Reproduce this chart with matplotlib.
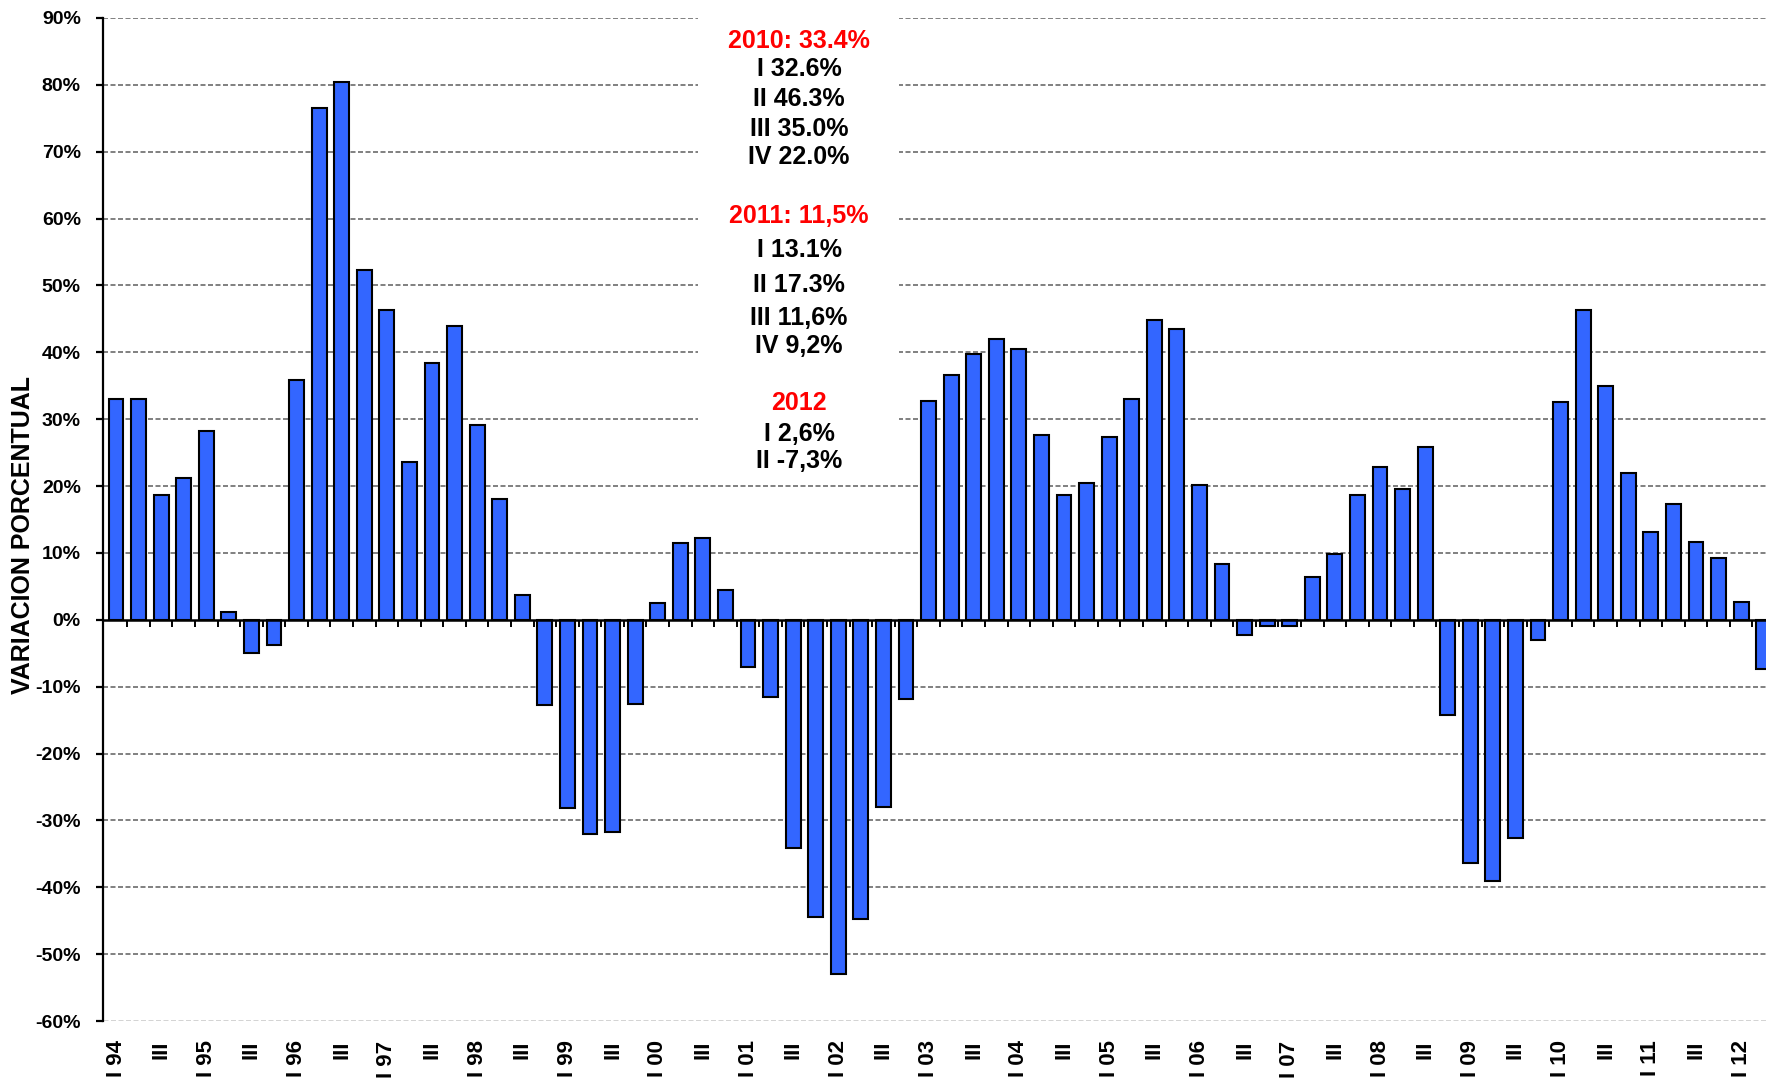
import matplotlib
matplotlib.use("Agg")
import matplotlib.pyplot as plt
from matplotlib.patches import Rectangle
import numpy as np

# ---------------- data ----------------
values = [33.0, 33.0, 18.7, 21.2, 28.2, 1.2, -5.0, -3.8,
          35.9, 76.6, 80.4, 52.3, 46.4, 23.6, 38.4, 44.0,
          29.2, 18.0, 3.7, -12.7, -28.2, -32.0, -31.7, -12.6,
          2.5, 11.5, 12.3, 4.4, -7.1, -11.5, -34.2, -44.4,
          -53.0, -44.7, -28.0, -11.8, 32.7, 36.6, 39.8, 42.0,
          40.5, 27.7, 18.7, 20.4, 27.3, 33.0, 44.9, 43.5,
          20.2, 8.4, -2.3, -0.9, -0.9, 6.4, 9.8, 18.7,
          22.8, 19.6, 25.8, -14.2, -36.3, -39.0, -32.7, -3.0,
          32.6, 46.3, 35.0, 22.0, 13.1, 17.3, 11.6, 9.2,
          2.6, -7.3]

tick_labels = ["I 94", "III", "I 95", "III", "I 96", "III", "I 97", "III",
               "I 98", "III", "I 99", "III", "I 00", "III", "I 01", "III",
               "I 02", "III", "I 03", "III", "I 04", "III", "I 05", "III",
               "I 06", "III", "I 07", "III", "I 08", "III", "I 09", "III",
               "I 10", "III", "I 11", "III", "I 12"]

y_ticks = [90, 80, 70, 60, 50, 40, 30, 20, 10, 0, -10, -20, -30, -40, -50, -60]

annot_lines = [("2010: 33.4%", "red"), ("I 32.6%", "black"), ("II 46.3%", "black"),
               ("III 35.0%", "black"), ("IV 22.0%", "black"),
               ("2011: 11,5%", "red"), ("I 13.1%", "black"), ("II 17.3%", "black"),
               ("III 11,6%", "black"), ("IV 9,2%", "black"),
               ("2012", "red"), ("I 2,6%", "black"), ("II -7,3%", "black")]
annot_baselines = [85.5, 81.3, 76.9, 72.3, 68.1, 59.4, 54.3, 49.0, 44.1, 39.9,
                   31.4, 26.7, 22.7]

ylabel = "VARIACION PORCENTUAL"

# ---------------- figure ----------------
plt.rcParams['font.family'] = ['Liberation Sans', 'DejaVu Sans']
plt.rcParams['font.weight'] = 'bold'
plt.rcParams['lines.scale_dashes'] = False

W, H = 1766, 1078
fig = plt.figure(figsize=(W / 100, H / 100), dpi=100)
ax = fig.add_axes([103 / W, 1 - 1021 / H, 1 - 103 / W, (1021 - 18) / H])

x = np.arange(len(values))
ax.bar(x, values, width=0.66, color="#3366FF", edgecolor="black",
       linewidth=1.5, zorder=2)

ax.set_xlim(-0.576, 73.1)
ax.set_ylim(-60, 90)

# grid lines
for v in y_ticks:
    if v == 0:
        continue
    if v == -60:
        ax.axhline(v, color="#cfcfcf", lw=2.0, ls=(0, (3.6, 1.8)), zorder=0.5)
    else:
        ax.axhline(v, color="#808080", lw=1.4, ls=(0, (3.6, 1.8)), zorder=0.5)
ax.axhline(0, color="black", lw=1.8, zorder=3)

# white box behind annotation
ax.add_patch(Rectangle((25.79, 21.5), 34.69 - 25.79, 72.0, facecolor="white",
                       edgecolor="none", zorder=1, clip_on=False))

for (txt, col), yb in zip(annot_lines, annot_baselines):
    ax.text(30.26, yb, txt, color=col, fontsize=18, fontweight="bold",
            ha="center", va="baseline", zorder=4)

# y axis
ax.set_yticks(y_ticks)
ax.set_yticklabels([f"{v}%" for v in y_ticks])
ax.tick_params(axis="y", direction="out", length=5, width=1.6, pad=11,
               labelsize=14)
for lab in ax.get_yticklabels():
    lab.set_fontweight("bold")

# x axis labels
ax.set_xticks(x[::2])
ax.set_xticklabels(tick_labels, rotation=90, fontsize=16, fontweight="bold")
ax.tick_params(axis="x", length=0, pad=14)

for s in ["top", "right", "bottom"]:
    ax.spines[s].set_visible(False)
ax.spines["left"].set_linewidth(1.6)

# tick marks on the zero line
sec = ax.secondary_xaxis(0.4)
sec.set_xticks(x[:-1] + 0.5)
sec.set_xticklabels([])
sec.tick_params(axis="x", direction="out", length=5, width=1.4)
for s in sec.spines.values():
    s.set_visible(False)

fig.text(23.5 / W, 1 - 535 / H, ylabel, rotation=90, ha="center", va="center",
         fontsize=18, fontweight="bold")

fig.savefig("out.png", dpi=100)
